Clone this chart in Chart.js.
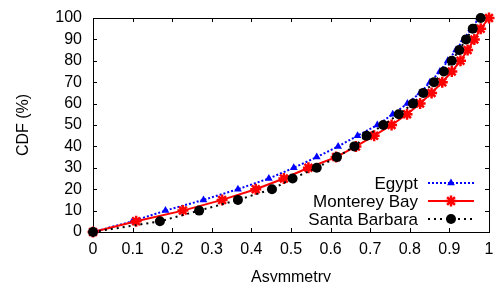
<!DOCTYPE html>
<html>
<head>
<meta charset="utf-8">
<script src="https://cdn.jsdelivr.net/npm/chart.js@4.4.0/dist/chart.umd.min.js"></script>
<style>
  html, body { margin: 0; padding: 0; background: #fff; }
</style>
</head>
<body>
<canvas id="cdfChart" width="497" height="282"></canvas>
<script>
// CDF levels (%) shared by all three curves
const cdfLevels = [0, 5, 10, 15, 20, 25, 30, 35, 40, 45, 50, 55, 60, 65, 70, 75, 80, 85, 90, 95, 100];

// asymmetry value reached at each CDF level
const egyptAsym = [0, 0.100, 0.183, 0.279, 0.366, 0.444, 0.507, 0.565, 0.619, 0.668, 0.718,
  0.757, 0.794, 0.826, 0.851, 0.876, 0.896, 0.917, 0.936, 0.955, 0.975];
const montereyAsym = [0, 0.109, 0.227, 0.326, 0.411, 0.482, 0.544, 0.614, 0.664, 0.710, 0.754,
  0.793, 0.826, 0.855, 0.882, 0.906, 0.928, 0.946, 0.963, 0.979, 1.0];
const santaBarbaraAsym = [0, 0.169, 0.268, 0.366, 0.452, 0.504, 0.565, 0.616, 0.660, 0.691, 0.733,
  0.772, 0.808, 0.834, 0.861, 0.886, 0.906, 0.925, 0.942, 0.959, 0.979];

const xTickLabels = ['0', '0.1', '0.2', '0.3', '0.4', '0.5', '0.6', '0.7', '0.8', '0.9', '1'];
const yTickLabels = ['0', '10', '20', '30', '40', '50', '60', '70', '80', '90', '100'];

const FONT = 'Liberation Sans';

function toPoints(xs) {
  return xs.map((v, i) => ({ x: v, y: cdfLevels[i] }));
}

// box round the plot with inward tick marks on all four sides
const frameTicks = {
  id: 'frameTicks',
  beforeDatasetsDraw(chart) {
    const { ctx, chartArea: a, scales: { x, y } } = chart;
    ctx.save();
    ctx.strokeStyle = '#000';
    ctx.lineWidth = 1;
    ctx.strokeRect(a.left + 0.5, a.top + 0.5, a.right - a.left, a.bottom - a.top);
    ctx.beginPath();
    x.ticks.forEach(t => {
      const px = Math.round(x.getPixelForValue(t.value)) + 0.5;
      ctx.moveTo(px, a.bottom); ctx.lineTo(px, a.bottom - 4);
      ctx.moveTo(px, a.top); ctx.lineTo(px, a.top + 4);
    });
    y.ticks.forEach(t => {
      const py = Math.round(y.getPixelForValue(t.value)) + 0.5;
      ctx.moveTo(a.left, py); ctx.lineTo(a.left + 4, py);
      ctx.moveTo(a.right, py); ctx.lineTo(a.right - 4, py);
    });
    ctx.stroke();
    ctx.restore();
  }
};

// gnuplot style key: text right aligned, sample on the right
const keyBox = {
  id: 'keyBox',
  afterDraw(chart) {
    const { ctx } = chart;
    const rows = [183, 201, 219];
    ctx.save();
    ctx.font = '17px "' + FONT + '"';
    ctx.textAlign = 'right';
    ctx.textBaseline = 'middle';
    chart.data.datasets.forEach((ds, i) => {
      const yy = rows[i];
      ctx.fillStyle = '#000';
      ctx.fillText(ds.label, 418, yy + 1);
      ctx.strokeStyle = ds.borderColor;
      ctx.lineWidth = ds.borderWidth;
      ctx.setLineDash(ds.borderDash || []);
      ctx.beginPath();
      ctx.moveTo(428, yy); ctx.lineTo(474, yy);
      ctx.stroke();
      ctx.setLineDash([]);
      ctx.fillStyle = ds.pointBackgroundColor;
      ctx.strokeStyle = ds.pointBorderColor;
      ctx.lineWidth = ds.pointBorderWidth;
      Chart.helpers.drawPoint(ctx, {
        pointStyle: ds.pointStyle, rotation: 0,
        radius: ds.pointRadius, borderWidth: ds.pointBorderWidth
      }, 451, yy);
    });
    ctx.restore();
  }
};

new Chart(document.getElementById('cdfChart'), {
  type: 'line',
  data: {
    datasets: [{
      label: 'Egypt',
      data: toPoints(egyptAsym),
      borderColor: '#0000ff',
      borderWidth: 2,
      borderDash: [2, 2],
      pointStyle: 'triangle',
      pointRadius: 4.5,
      pointBackgroundColor: '#0000ff',
      pointBorderColor: '#0000ff',
      pointBorderWidth: 0,
      order: 2
    }, {
      label: 'Monterey Bay',
      data: toPoints(montereyAsym),
      borderColor: '#ff0000',
      borderWidth: 2,
      pointStyle: 'star',
      pointRadius: 5.5,
      pointBackgroundColor: '#ff0000',
      pointBorderColor: '#ff0000',
      pointBorderWidth: 2.5,
      order: 1
    }, {
      label: 'Santa Barbara',
      data: toPoints(santaBarbaraAsym),
      borderColor: '#000000',
      borderWidth: 2,
      borderDash: [2, 4],
      pointStyle: 'circle',
      pointRadius: 5,
      pointBackgroundColor: '#000000',
      pointBorderColor: '#000000',
      pointBorderWidth: 0,
      order: 0
    }]
  },
  options: {
    responsive: false,
    animation: false,
    clip: false,
    layout: { padding: { top: 18, right: 3, left: 0, bottom: 0 } },
    plugins: { legend: { display: false }, tooltip: { enabled: false } },
    elements: { line: { tension: 0 } },
    scales: {
      x: {
        type: 'linear',
        min: 0, max: 1,
        grid: { display: false, drawTicks: false },
        border: { display: false },
        ticks: {
          stepSize: 0.1,
          autoSkip: false,
          padding: 8,
          color: '#000',
          font: { family: FONT, size: 16 },
          maxRotation: 0,
          callback: (v, i) => xTickLabels[i]
        },
        title: {
          display: true, text: 'Asymmetry', color: '#000',
          font: { family: FONT, size: 16 },
          padding: { top: 0, bottom: -5 }
        },
        afterFit(scale) {
          scale.height = 50;
          scale.paddingLeft = 0;
          scale.paddingRight = 0;
        }
      },
      y: {
        min: 0, max: 100,
        grid: { display: false, drawTicks: false },
        border: { display: false },
        ticks: {
          stepSize: 10,
          autoSkip: false,
          padding: 11,
          color: '#000',
          font: { family: FONT, size: 16 },
          callback: (v, i) => yTickLabels[i]
        },
        title: {
          display: true, text: 'CDF (%)', color: '#000',
          font: { family: FONT, size: 16 },
          padding: { top: 14, bottom: 0 }
        },
        afterFit(scale) {
          scale.width = 93;
          scale.paddingTop = 0;
          scale.paddingBottom = 0;
        }
      }
    }
  },
  plugins: [frameTicks, keyBox]
});
</script>
</body>
</html>
